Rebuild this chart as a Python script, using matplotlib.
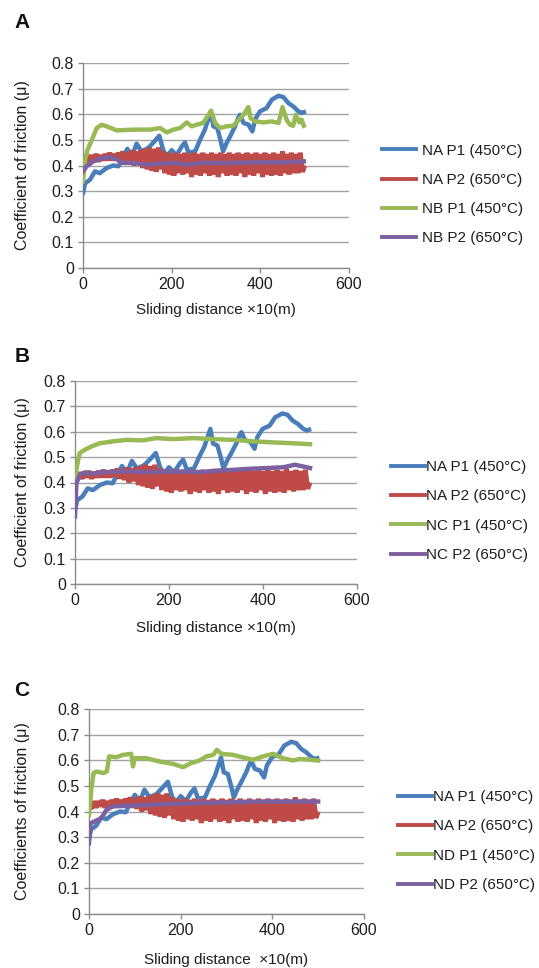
import numpy as np
import matplotlib
matplotlib.use("Agg")
import matplotlib.pyplot as plt
from matplotlib.lines import Line2D
from matplotlib.ticker import FuncFormatter

plt.rcParams['font.family'] = ['Liberation Sans', 'DejaVu Sans']

# ---------------- data ----------------
# NA P1 (450°C) – common to all three panels
na_p1_x = [0, 4.5, 16, 27, 38, 53, 68, 80, 91, 100, 110, 121, 132, 147, 159, 172, 181, 189,
           200, 211, 223, 230, 238, 253, 264, 275, 288, 294, 303, 310, 316, 324, 332, 343,
           350, 354, 362, 373, 382, 388, 399, 414, 426, 441, 452, 463, 474, 486, 493, 498]
na_p1_y = [0.293, 0.33, 0.345, 0.377, 0.37, 0.39, 0.40, 0.397, 0.435, 0.465, 0.435, 0.485,
           0.455, 0.468, 0.49, 0.516, 0.46, 0.435, 0.46, 0.44, 0.475, 0.49, 0.45, 0.455,
           0.50, 0.54, 0.611, 0.553, 0.546, 0.50, 0.455, 0.488, 0.514, 0.553, 0.585, 0.598,
           0.566, 0.56, 0.533, 0.579, 0.611, 0.624, 0.657, 0.672, 0.667, 0.644, 0.631,
           0.611, 0.605, 0.608]

# NA P2 (650°C) – common to all three panels (noisy trace: alternating peaks / troughs)
na_p2_x = list(range(0, 505, 5))
na_p2_y = [0.43, 0.41, 0.44, 0.415, 0.44, 0.42, 0.445, 0.415, 0.44, 0.42,
           0.445, 0.42, 0.45, 0.42, 0.445, 0.42, 0.45, 0.425, 0.455, 0.415,
           0.45, 0.41, 0.46, 0.40, 0.455, 0.405, 0.46, 0.39, 0.465, 0.385,
           0.47, 0.38, 0.465, 0.375, 0.47, 0.385, 0.455, 0.37, 0.45, 0.365,
           0.445, 0.36, 0.45, 0.37, 0.445, 0.365, 0.45, 0.37, 0.445, 0.355,
           0.45, 0.365, 0.445, 0.36, 0.45, 0.37, 0.445, 0.36, 0.45, 0.365,
           0.445, 0.355, 0.45, 0.37, 0.445, 0.36, 0.45, 0.365, 0.445, 0.36,
           0.45, 0.37, 0.445, 0.355, 0.45, 0.365, 0.445, 0.36, 0.45, 0.37,
           0.445, 0.355, 0.45, 0.365, 0.445, 0.36, 0.45, 0.365, 0.445, 0.36,
           0.455, 0.37, 0.445, 0.365, 0.45, 0.37, 0.445, 0.37, 0.45, 0.375, 0.40]

# Panel A
nb_p1_x = [0, 4.5, 10, 20, 31, 42, 53, 76, 113, 151, 174, 189, 204, 219, 234, 245, 256, 271,
           289, 298, 309, 324, 339, 350, 362, 373, 378, 388, 407, 426, 441, 450, 459, 467,
           474, 480, 488, 493, 498]
nb_p1_y = [0.338, 0.42, 0.46, 0.50, 0.546, 0.559, 0.553, 0.537, 0.54, 0.54, 0.546, 0.529,
           0.54, 0.546, 0.568, 0.553, 0.559, 0.566, 0.614, 0.566, 0.546, 0.553, 0.555,
           0.576, 0.598, 0.628, 0.585, 0.572, 0.568, 0.572, 0.566, 0.628, 0.579, 0.559,
           0.555, 0.598, 0.568, 0.579, 0.555]
nb_p2_x = [0, 8, 23, 46, 61, 76, 87, 113, 144, 174, 204, 234, 264, 302, 339, 377, 414, 452, 498]
nb_p2_y = [0.377, 0.397, 0.416, 0.43, 0.433, 0.425, 0.41, 0.41, 0.403, 0.407, 0.41, 0.403,
           0.41, 0.41, 0.41, 0.412, 0.412, 0.412, 0.416]

# Panel B
nc_p1_x = [0, 4, 10, 21, 35, 53, 81, 109, 145, 173, 209, 252, 294, 337, 380, 422, 458, 500]
nc_p1_y = [0.41, 0.463, 0.516, 0.529, 0.542, 0.555, 0.562, 0.568, 0.566, 0.575, 0.571,
           0.575, 0.571, 0.568, 0.562, 0.558, 0.555, 0.551]
nc_p2_x = [0, 3, 10, 21, 35, 53, 88, 124, 159, 195, 230, 266, 301, 337, 372, 408, 443, 468, 500]
nc_p2_y = [0.266, 0.397, 0.43, 0.44, 0.434, 0.44, 0.443, 0.443, 0.441, 0.443, 0.443, 0.441,
           0.447, 0.45, 0.454, 0.457, 0.46, 0.47, 0.457]

# Panel C
nd_p1_x = [0, 5, 10, 16, 31, 39, 44, 60, 74, 92, 96, 100, 125, 154, 183, 205, 223, 241, 256,
           271, 279, 289, 314, 343, 358, 380, 401, 423, 445, 460, 481, 500]
nd_p1_y = [0.387, 0.485, 0.55, 0.556, 0.55, 0.556, 0.615, 0.612, 0.621, 0.625, 0.576, 0.608,
           0.608, 0.595, 0.586, 0.573, 0.589, 0.599, 0.615, 0.621, 0.641, 0.625, 0.621,
           0.608, 0.602, 0.615, 0.625, 0.608, 0.599, 0.605, 0.602, 0.599]
nd_p2_x = [0, 3, 12, 27, 38, 52, 81, 132, 183, 241, 314, 387, 445, 500]
nd_p2_y = [0.276, 0.354, 0.361, 0.374, 0.406, 0.42, 0.422, 0.426, 0.43, 0.433, 0.436, 0.439,
           0.439, 0.439]

panel_letters = ['A', 'B', 'C']
legend_labels = [
    ['NA P1 (450°C)', 'NA P2 (650°C)', 'NB P1 (450°C)', 'NB P2 (650°C)'],
    ['NA P1 (450°C)', 'NA P2 (650°C)', 'NC P1 (450°C)', 'NC P2 (650°C)'],
    ['NA P1 (450°C)', 'NA P2 (650°C)', 'ND P1 (450°C)', 'ND P2 (650°C)'],
]
ylabels = ['Coefficient of friction (μ)', 'Coefficient of friction (μ)',
           'Coefficients of friction (μ)']
xlabels = ['Sliding distance ×10(m)', 'Sliding distance ×10(m)',
           'Sliding distance  ×10(m)']
panel_p1 = [(nb_p1_x, nb_p1_y), (nc_p1_x, nc_p1_y), (nd_p1_x, nd_p1_y)]
panel_p2 = [(nb_p2_x, nb_p2_y), (nc_p2_x, nc_p2_y), (nd_p2_x, nd_p2_y)]

x_ticks = [0, 200, 400, 600]
y_ticks = [0, 0.1, 0.2, 0.3, 0.4, 0.5, 0.6, 0.7, 0.8]

# ---------------- layout ----------------
W, H = 539, 968
fig = plt.figure(figsize=(W / 100, H / 100), dpi=100)

def fx(px):
    return px / W

def fy(py):
    return 1 - py / H

# axes boxes in pixels: left, right, top, bottom
boxes = [(83, 349, 63, 268), (75, 357, 381, 584), (89, 364, 709, 914)]
legend_pos = [(382, 194.5, 0.45), (391, 511, 0.1), (398, 841, 0.1)]
xlabel_y = [310, 628, 960]
ylabel_x = [23, 23, 23]
letter_pos = [(22, 23), (22, 356), (22, 690)]

colors = ['#4A7EBB', '#BE4B48', '#98B954', '#7D60A0']
grid_c = '#a3a3a3'
spine_c = '#8c8c8c'
txt_c = '#1e1e1e'
FS = 11.5

for i in range(3):
    l, r, t, b = boxes[i]
    ax = fig.add_axes([fx(l), fy(b), fx(r) - fx(l), fy(t) - fy(b)])
    ax.set_xlim(0, 600)
    ax.set_ylim(0, 0.8)
    ax.set_xticks(x_ticks)
    ax.set_yticks(y_ticks)
    ax.yaxis.set_major_formatter(FuncFormatter(lambda v, p: '0' if abs(v) < 1e-9 else f'{v:.1f}'))
    for s in ['top', 'right']:
        ax.spines[s].set_visible(False)
    for s in ['left', 'bottom']:
        ax.spines[s].set_color(spine_c)
        ax.spines[s].set_linewidth(1.0)
    ax.tick_params(axis='both', direction='out', length=3.5, width=1.0, color=spine_c,
                   labelsize=FS, labelcolor=txt_c, pad=3)
    ax.grid(axis='y', color=grid_c, linewidth=1.0)
    ax.set_axisbelow(True)

    lw = 3.2
    ax.plot(na_p1_x, na_p1_y, color=colors[0], lw=lw, solid_joinstyle='round', zorder=3)
    ax.plot(na_p2_x, na_p2_y, color=colors[1], lw=3.6, solid_joinstyle='bevel',
            solid_capstyle='butt', zorder=4)
    ax.plot(*panel_p1[i], color=colors[2], lw=lw, solid_joinstyle='round', zorder=5)
    ax.plot(*panel_p2[i], color=colors[3], lw=lw, solid_joinstyle='round', zorder=6)

    handles = [Line2D([], [], color=c, lw=2.8) for c in colors]
    lx, ly, htp = legend_pos[i]
    ax.legend(handles, legend_labels[i], loc='center left',
              bbox_to_anchor=(fx(lx), fy(ly)), bbox_transform=fig.transFigure,
              frameon=False, fontsize=11, handlelength=2.2, handletextpad=htp,
              labelspacing=1.0, borderpad=0, borderaxespad=0, labelcolor=txt_c)

    fig.text(fx((l + r) / 2), fy(xlabel_y[i]), xlabels[i], ha='center', va='center',
             fontsize=11, color=txt_c)
    fig.text(fx(ylabel_x[i]), fy((t + b) / 2), ylabels[i], ha='center', va='center',
             rotation=90, fontsize=FS, color=txt_c)
    lxp, lyp = letter_pos[i]
    fig.text(fx(lxp), fy(lyp), panel_letters[i], ha='center', va='center',
             fontsize=15, fontweight='bold', color='#111111')

fig.savefig('out.png', dpi=100, facecolor='white')
